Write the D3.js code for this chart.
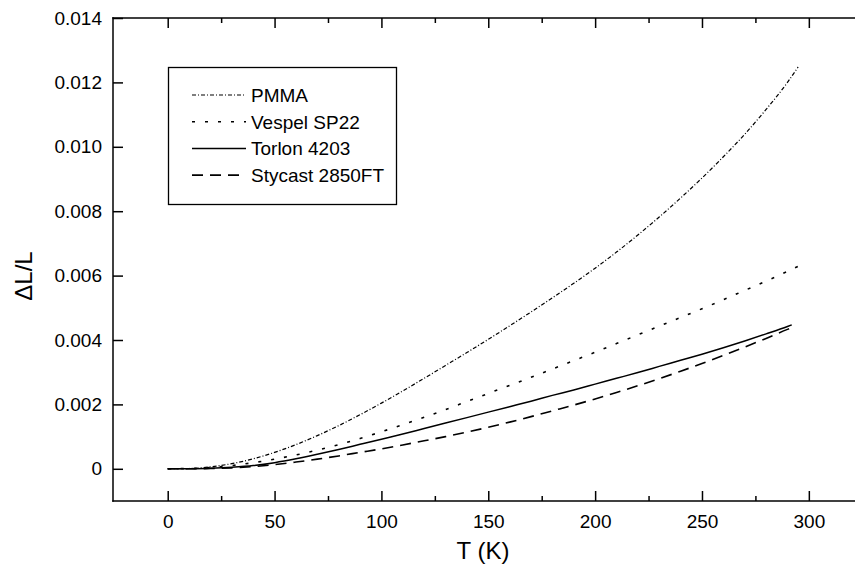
<!DOCTYPE html>
<html>
<head>
<meta charset="utf-8">
<script src="https://cdn.jsdelivr.net/npm/d3@7"></script>
<style>
  body { margin: 0; background: #fff; }
  svg { font-family: "Liberation Sans", Arial, sans-serif; }
  .axis text { font-size: 19px; fill: #000; }
  .axis line { stroke: #000; stroke-width: 1.5; }
</style>
</head>
<body>
<div id="chart"></div>
<script>
var width = 855,
    height = 574;

// temperatures (K) sampled along the curves
var tempK = [0, 10, 20, 30, 40, 50, 60, 70, 80, 90, 100, 110, 120, 130, 140,
             150, 160, 170, 180, 190, 200, 210, 220, 230, 240, 250, 260, 270, 280, 290];

// delta L / L
var pmma    = [0, 0.00001, 0.00006, 0.00016, 0.00031, 0.00051, 0.00075, 0.00103, 0.00134, 0.00168,
               0.00204, 0.00242, 0.00281, 0.00321, 0.00361, 0.00402, 0.00444, 0.00487, 0.00531, 0.00576,
               0.00623, 0.00673, 0.00726, 0.00782, 0.00841, 0.00903, 0.00969, 0.01039, 0.01116, 0.01200];
var vespel  = [0, 0.00001, 0.00004, 0.00010, 0.00019, 0.00030, 0.00043, 0.00058, 0.00075, 0.00094,
               0.00115, 0.00137, 0.00160, 0.00184, 0.00209, 0.00234, 0.00259, 0.00284, 0.00310, 0.00336,
               0.00362, 0.00389, 0.00416, 0.00443, 0.00470, 0.00497, 0.00525, 0.00554, 0.00583, 0.00613];
var torlon  = [0, 0.000005, 0.00002, 0.00005, 0.00010, 0.00019, 0.00031, 0.00045, 0.00060, 0.00076,
               0.00092, 0.00108, 0.00125, 0.00142, 0.00159, 0.00176, 0.00193, 0.00210, 0.00228, 0.00245,
               0.00263, 0.00281, 0.00299, 0.00318, 0.00337, 0.00356, 0.00376, 0.00397, 0.00419, 0.00442];
var stycast = [0, 0.000002, 0.00001, 0.00003, 0.00007, 0.00013, 0.00021, 0.00030, 0.00040, 0.00051,
               0.00062, 0.00074, 0.00087, 0.00100, 0.00114, 0.00129, 0.00145, 0.00162, 0.00180, 0.00198,
               0.00217, 0.00237, 0.00258, 0.00280, 0.00303, 0.00327, 0.00352, 0.00378, 0.00405, 0.00433];

// last point of each curve [T, dL/L]
var endPoints = [[295, 0.01248], [295, 0.00629], [292, 0.00447], [293.5, 0.00442]];

var names = ["PMMA", "Vespel SP22", "Torlon 4203", "Stycast 2850FT"];
var dashes = ["4,2,1,2", "3,10", null, "11,7"];
var widths = [1.2, 1.6, 1.5, 1.6];

var xMajor = [0, 50, 100, 150, 200, 250, 300];
var xMinor = [25, 75, 125, 175, 225, 275];
var yTicks = [0, 0.002, 0.004, 0.006, 0.008, 0.010, 0.012, 0.014];

var plotLeft = 113, plotRight = 855, plotTop = 18, plotBottom = 501;

var svg = d3.select("#chart")
    .append("svg")
    .attr("width", width)
    .attr("height", height);

var x = d3.scaleLinear().domain([-25.6, 321.6]).range([plotLeft, plotRight]);
var y = d3.scaleLinear().domain([-0.001, 0.014]).range([plotBottom, plotTop]);

// axes
function noDomain(g) { g.select(".domain").remove(); }

svg.append("g").attr("class", "axis")
    .attr("transform", "translate(0," + plotBottom + ")")
    .call(d3.axisBottom(x).tickValues(xMajor).tickSize(-10).tickPadding(14).tickFormat(d3.format("d")))
    .call(noDomain);
svg.append("g").attr("class", "axis")
    .attr("transform", "translate(0," + plotBottom + ")")
    .call(d3.axisBottom(x).tickValues(xMinor).tickSize(-5).tickFormat(""))
    .call(noDomain);
svg.append("g").attr("class", "axis")
    .attr("transform", "translate(0," + plotTop + ")")
    .call(d3.axisTop(x).tickValues(xMajor).tickSize(-10).tickFormat(""))
    .call(noDomain);
svg.append("g").attr("class", "axis")
    .attr("transform", "translate(0," + plotTop + ")")
    .call(d3.axisTop(x).tickValues(xMinor).tickSize(-5).tickFormat(""))
    .call(noDomain);
svg.append("g").attr("class", "axis")
    .attr("transform", "translate(" + plotLeft + ",0)")
    .call(d3.axisLeft(y).tickValues(yTicks).tickSize(-10).tickPadding(11)
      .tickFormat(function(d) { return d === 0 ? "0" : d3.format(".3f")(d); }))
    .call(noDomain);

svg.selectAll(".axis .tick text").attr("font-family", "Liberation Sans, Arial, sans-serif");

// frame lines (no right side)
[[plotLeft, plotTop, plotRight, plotTop], [plotLeft, plotBottom, plotRight, plotBottom],
 [plotLeft, plotTop, plotLeft, plotBottom]].forEach(function(l) {
  svg.append("line")
    .attr("x1", l[0]).attr("y1", l[1]).attr("x2", l[2]).attr("y2", l[3])
    .attr("stroke", "#000").attr("stroke-width", 1.5)
    .attr("stroke-linecap", "square");
});

// curves
var line = d3.line()
    .x(function(d) { return x(d[0]); })
    .y(function(d) { return y(d[1]); })
    .curve(d3.curveMonotoneX);

[pmma, vespel, torlon, stycast].forEach(function(vals, i) {
  var pts = tempK.map(function(t, j) { return [t, vals[j]]; });
  pts.push(endPoints[i]);
  svg.append("path")
    .datum(pts)
    .attr("d", line)
    .attr("fill", "none")
    .attr("stroke", "#000")
    .attr("stroke-width", widths[i])
    .attr("stroke-dasharray", dashes[i]);
});

// legend
var legend = svg.append("g");
legend.append("rect")
    .attr("x", 168.5).attr("y", 67.5)
    .attr("width", 228).attr("height", 137)
    .attr("fill", "#fff").attr("stroke", "#000").attr("stroke-width", 1.3);

names.forEach(function(n, i) {
  var yy = 95 + i * 26.7;
  legend.append("line")
    .attr("x1", 192).attr("x2", 246).attr("y1", yy).attr("y2", yy)
    .attr("stroke", "#000")
    .attr("stroke-width", widths[i])
    .attr("stroke-dasharray", dashes[i]);
  legend.append("text")
    .attr("x", 251).attr("y", yy)
    .attr("dy", "0.36em")
    .attr("font-size", "19px")
    .text(n);
});

// axis titles
svg.append("text")
    .attr("x", 483).attr("y", 550)
    .attr("dy", "0.36em")
    .attr("text-anchor", "middle")
    .attr("font-size", "24px")
    .text("T (K)");

svg.append("text")
    .attr("transform", "translate(23,276) rotate(-90)")
    .attr("dy", "0.36em")
    .attr("text-anchor", "middle")
    .attr("font-size", "24px")
    .text("\u0394L/L");
</script>
</body>
</html>
